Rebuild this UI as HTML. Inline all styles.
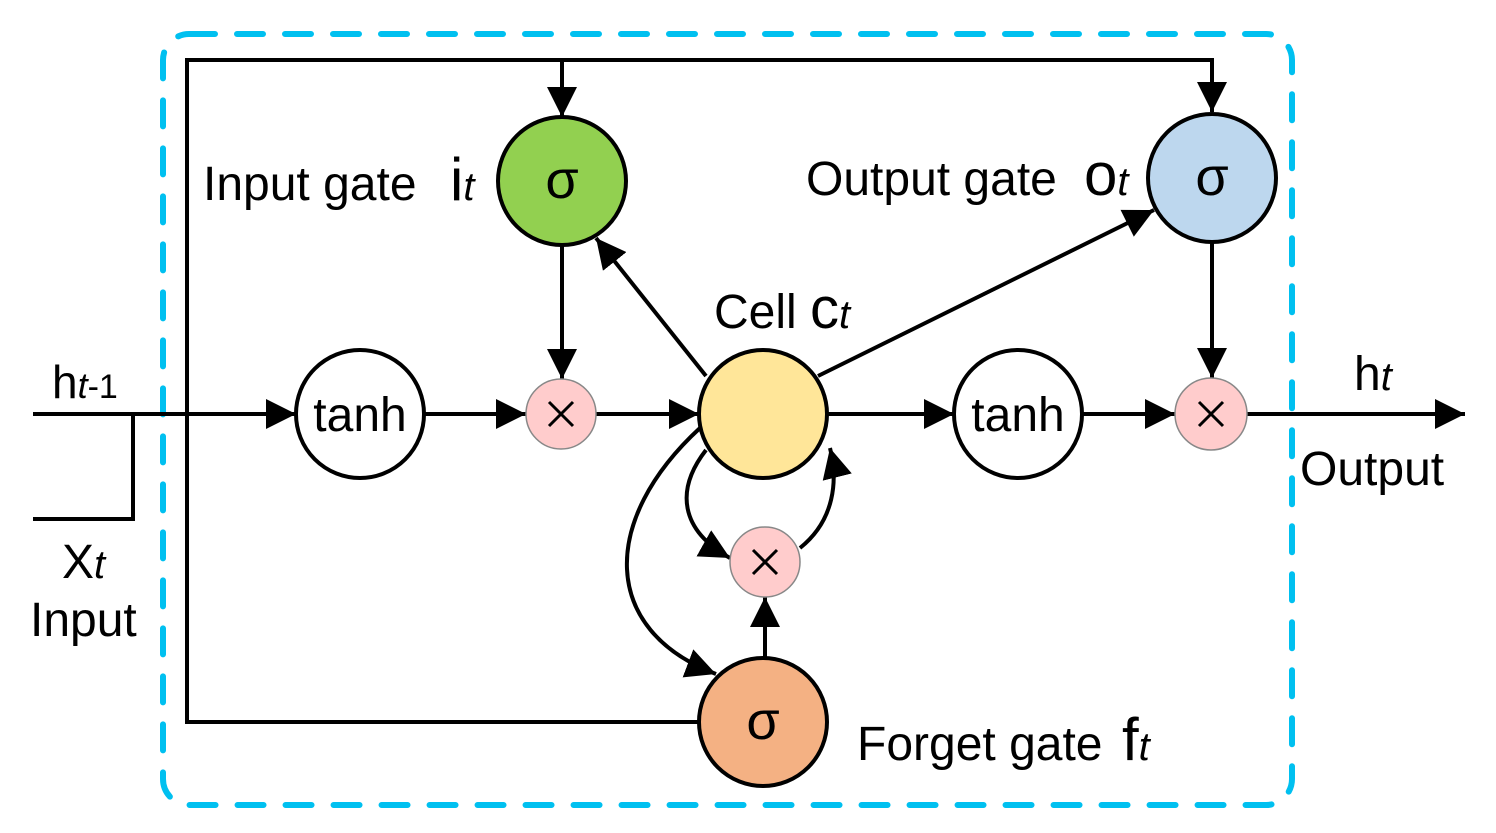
<!DOCTYPE html>
<html><head><meta charset="utf-8"><style>
html,body{margin:0;padding:0;background:#fff}
svg{display:block}
text{font-family:"Liberation Sans",Arial,sans-serif;fill:#000}
</style></head><body>
<svg width="1496" height="833" viewBox="0 0 1496 833" xmlns="http://www.w3.org/2000/svg">
<defs>
<marker id="ar" viewBox="0 0 30 30" refX="30" refY="15" markerWidth="30" markerHeight="30" markerUnits="userSpaceOnUse" orient="auto"><path d="M0,0 L30,15 L0,30 Z" fill="#000"/></marker>
</defs>
<rect x="163" y="34" width="1129" height="771" rx="26" fill="none" stroke="#00c0f0" stroke-width="6" stroke-dasharray="26 22" stroke-linecap="round"/>
<g stroke="#000" stroke-width="4" fill="none">
<polyline points="699,722 187,722 187,60 1212,60"/>
<line x1="562" y1="60" x2="562" y2="117" marker-end="url(#ar)"/>
<line x1="1212" y1="58" x2="1212" y2="112" marker-end="url(#ar)"/>
<line x1="33" y1="414" x2="296" y2="414" marker-end="url(#ar)"/>
<polyline points="33,519 133,519 133,414"/>
<line x1="425" y1="414" x2="526" y2="414" marker-end="url(#ar)"/>
<line x1="596" y1="414" x2="699" y2="414" marker-end="url(#ar)"/>
<line x1="827" y1="414" x2="954" y2="414" marker-end="url(#ar)"/>
<line x1="1083" y1="414" x2="1175" y2="414" marker-end="url(#ar)"/>
<line x1="1247" y1="414" x2="1465" y2="414" marker-end="url(#ar)"/>
<line x1="562" y1="245" x2="562" y2="379" marker-end="url(#ar)"/>
<line x1="1212" y1="242" x2="1212" y2="378" marker-end="url(#ar)"/>
<line x1="706" y1="376" x2="596" y2="238" marker-end="url(#ar)"/>
<line x1="818" y1="376" x2="1154" y2="210" marker-end="url(#ar)"/>
<path d="M700,428 C600,520 600,630 716,674" marker-end="url(#ar)"/>
<path d="M706,450 C675,490 680,530 730,558" marker-end="url(#ar)"/>
<path d="M800,548 C835,520 838,480 830,448" marker-end="url(#ar)"/>
<line x1="765" y1="657" x2="765" y2="597" marker-end="url(#ar)"/>
</g>
<g stroke="#000" stroke-width="4">
<circle cx="562" cy="181" r="64" fill="#92d050"/>
<circle cx="1212" cy="178" r="64" fill="#bdd7ee"/>
<circle cx="763" cy="414" r="64" fill="#ffe699"/>
<circle cx="763" cy="722" r="64" fill="#f4b183"/>
<circle cx="360" cy="414" r="64" fill="#fff"/>
<circle cx="1018" cy="414" r="64" fill="#fff"/>
</g>
<g stroke="#888" stroke-width="1.5" fill="#ffcccc">
<circle cx="561" cy="414" r="35"/>
<circle cx="1211" cy="414" r="36"/>
<circle cx="765" cy="562" r="35"/>
</g>
<g stroke="#000" stroke-width="3">
<path d="M549,402 L573,426 M573,402 L549,426"/>
<path d="M1199,402 L1223,426 M1223,402 L1199,426"/>
<path d="M753,550 L777,574 M777,550 L753,574"/>
</g>
<g font-size="54" text-anchor="middle">
<text x="562" y="198">σ</text>
<text x="1212" y="195">σ</text>
<text x="763" y="739">σ</text>
</g>
<g font-size="48">
<text x="360" y="431" text-anchor="middle">tanh</text>
<text x="1018" y="431" text-anchor="middle">tanh</text>
<text x="203" y="200">Input gate <tspan x="450" font-size="60">i</tspan><tspan font-style="italic" font-size="40">t</tspan></text>
<text x="806" y="195">Output gate <tspan x="1084" font-size="60">o</tspan><tspan font-style="italic" font-size="40">t</tspan></text>
<text x="714" y="328">Cell <tspan font-size="58">c</tspan><tspan font-style="italic" font-size="40">t</tspan></text>
<text x="857" y="760">Forget gate <tspan x="1122" font-size="60">f</tspan><tspan font-style="italic" font-size="40">t</tspan></text>
<text x="1354" y="390">h<tspan font-style="italic" font-size="40">t</tspan></text>
<text x="1300" y="485">Output</text>
<text x="52" y="398" font-size="46">h<tspan font-style="italic" font-size="36">t</tspan><tspan font-size="34">-1</tspan></text>
<text x="62" y="578">X<tspan font-style="italic" font-size="40">t</tspan></text>
<text x="30" y="636">Input</text>
</g>
</svg>
</body></html>
